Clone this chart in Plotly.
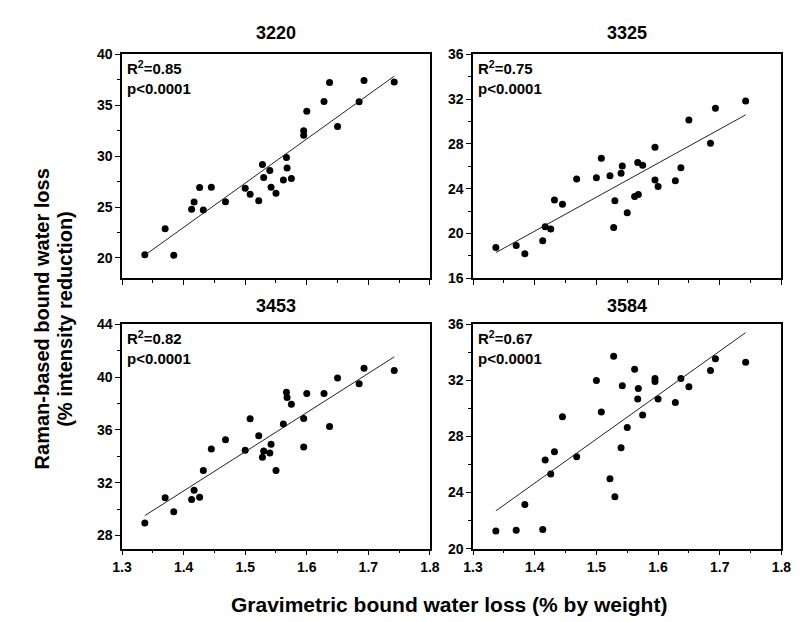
import numpy as np
import plotly.graph_objects as go

# ---- data ----
x_grav = [1.337, 1.370, 1.384, 1.413, 1.417, 1.426, 1.432, 1.445, 1.468, 1.500,
          1.508, 1.522, 1.528, 1.530, 1.540, 1.542, 1.550, 1.562, 1.567, 1.568,
          1.575, 1.595, 1.595, 1.600, 1.628, 1.637, 1.650, 1.685, 1.693, 1.742]

y_3220 = [20.32, 22.87, 20.26, 24.78, 25.49, 26.92, 24.72, 26.95, 25.52, 26.86,
          26.25, 25.61, 29.19, 27.91, 28.58, 26.95, 26.35, 27.66, 29.86, 28.84,
          27.81, 32.50, 32.06, 34.42, 35.37, 37.22, 32.92, 35.34, 37.42, 37.29]

y_3325 = [18.75, 18.93, 18.20, 19.36, 20.61, 20.41, 22.99, 22.61, 24.87, 24.99,
          26.72, 25.16, 20.55, 22.93, 25.39, 26.03, 21.86, 23.30, 26.35, 23.48,
          26.09, 27.71, 24.78, 24.20, 24.72, 25.88, 30.14, 28.06, 31.19, 31.83]

y_3453 = [28.94, 30.86, 29.80, 30.73, 31.42, 30.90, 32.92, 34.55, 35.26, 34.45,
          36.84, 35.56, 33.93, 34.40, 34.25, 34.92, 32.92, 36.44, 38.86, 38.46,
          37.94, 36.86, 34.70, 38.76, 38.76, 36.25, 39.94, 39.50, 40.68, 40.50]

y_3584 = [21.25, 21.32, 23.15, 21.37, 26.33, 25.33, 26.91, 29.41, 26.56, 31.99,
          29.74, 24.99, 33.73, 23.71, 27.19, 31.62, 28.65, 32.80, 30.67, 31.43,
          29.53, 32.13, 31.92, 30.67, 30.43, 32.13, 31.55, 32.71, 33.54, 33.30]

panel_titles = ["3220", "3325", "3453", "3584"]
r2_labels = ["0.85", "0.75", "0.82", "0.67"]
p_label = "p&lt;0.0001"
y_ranges = [[18, 40], [16, 36], [27, 44], [20, 36]]
y_dticks = [5, 4, 4, 4]
x_range = [1.3, 1.8]
x_title = "Gravimetric bound water loss (% by weight)"
y_title_lines = ["Raman-based bound water loss", "(% intensity reduction)"]

series = [y_3220, y_3325, y_3453, y_3584]

# ---- layout geometry (pixels -> paper) ----
W, H = 800, 622
xdoms = [[106.7 / W, 422.5 / W], [466.7 / W, 783.0 / W]]
ydoms = [[1 - 269.3 / H, 1 - 39.3 / H], [1 - 546.7 / H, 1 - 316.5 / H]]

FONT = "Liberation Sans, Arial, sans-serif"

fig = go.Figure()
layout = dict(
    width=W, height=H,
    margin=dict(l=0, r=0, t=0, b=0),
    paper_bgcolor="white", plot_bgcolor="white",
    showlegend=False,
    font=dict(family=FONT, color="black"),
)

annotations = []
for i, ys in enumerate(series):
    row, col = divmod(i, 2)
    n = i + 1
    xa = "x" if n == 1 else f"x{n}"
    ya = "y" if n == 1 else f"y{n}"
    xkey = "xaxis" if n == 1 else f"xaxis{n}"
    ykey = "yaxis" if n == 1 else f"yaxis{n}"

    fig.add_trace(go.Scatter(
        x=x_grav, y=ys, mode="markers", xaxis=xa, yaxis=ya,
        marker=dict(color="black", size=7, line=dict(width=0)),
    ))
    slope, intercept = np.polyfit(x_grav, ys, 1)
    xl = [min(x_grav), max(x_grav)]
    fig.add_trace(go.Scatter(
        x=xl, y=[slope * v + intercept for v in xl], mode="lines",
        xaxis=xa, yaxis=ya, line=dict(color="#222222", width=1),
    ))

    layout[xkey] = dict(
        domain=xdoms[col], anchor=ya, range=x_range, dtick=0.1, tick0=1.3,
        showgrid=False, zeroline=False, showline=True, linecolor="black",
        linewidth=1.5, mirror=True, ticks="outside", ticklen=5, tickwidth=1,
        tickcolor="black", showticklabels=(row == 1),
        tickfont=dict(family=FONT, size=14, color="black", weight="bold"),
        minor=dict(dtick=0.05, ticks="outside", ticklen=3, tickcolor="black",
                   showgrid=False),
        fixedrange=True,
    )
    layout[ykey] = dict(
        domain=ydoms[row], anchor=xa, range=y_ranges[i], dtick=y_dticks[i],
        tick0=0, showgrid=False, zeroline=False, showline=True,
        linecolor="black", linewidth=1.5, mirror=True, ticks="outside",
        ticklen=5, tickwidth=1, tickcolor="black",
        tickfont=dict(family=FONT, size=14, color="black", weight="bold"),
        minor=dict(dtick=y_dticks[i] / 2, ticks="outside", ticklen=3,
                   tickcolor="black", showgrid=False),
        fixedrange=True,
    )

    # panel title
    annotations.append(dict(
        text=panel_titles[i], xref="paper", yref="paper",
        x=(xdoms[col][0] + xdoms[col][1]) / 2,
        y=1 - (17 if row == 0 else 297.5) / H,
        xanchor="center", yanchor="middle", showarrow=False,
        font=dict(family=FONT, size=18, color="black", weight="bold"),
    ))
    # R2 / p annotation
    annotations.append(dict(
        text=f"R<sup>2</sup>={r2_labels[i]}<br>{p_label}",
        xref=f"{xa} domain", yref=f"{ya} domain", x=0, y=1,
        xanchor="left", yanchor="top", align="left", xshift=3, yshift=-2,
        showarrow=False,
        font=dict(family=FONT, size=15, color="black", weight="bold"),
    ))

annotations.append(dict(
    text=x_title, xref="paper", yref="paper", x=442 / W, y=1 - 604 / H,
    xanchor="center", yanchor="middle", showarrow=False,
    font=dict(family=FONT, size=21, color="black", weight="bold"),
))
for k, (line, xpx) in enumerate(zip(y_title_lines, [25, 48])):
    annotations.append(dict(
        text=line, xref="paper", yref="paper", x=xpx / W, y=1 - 311 / H,
        xanchor="center", yanchor="middle", showarrow=False, textangle=-90,
        font=dict(family=FONT, size=20, color="black", weight="bold"),
    ))

layout["annotations"] = annotations
fig.update_layout(**layout)
fig.write_html("out.html")
